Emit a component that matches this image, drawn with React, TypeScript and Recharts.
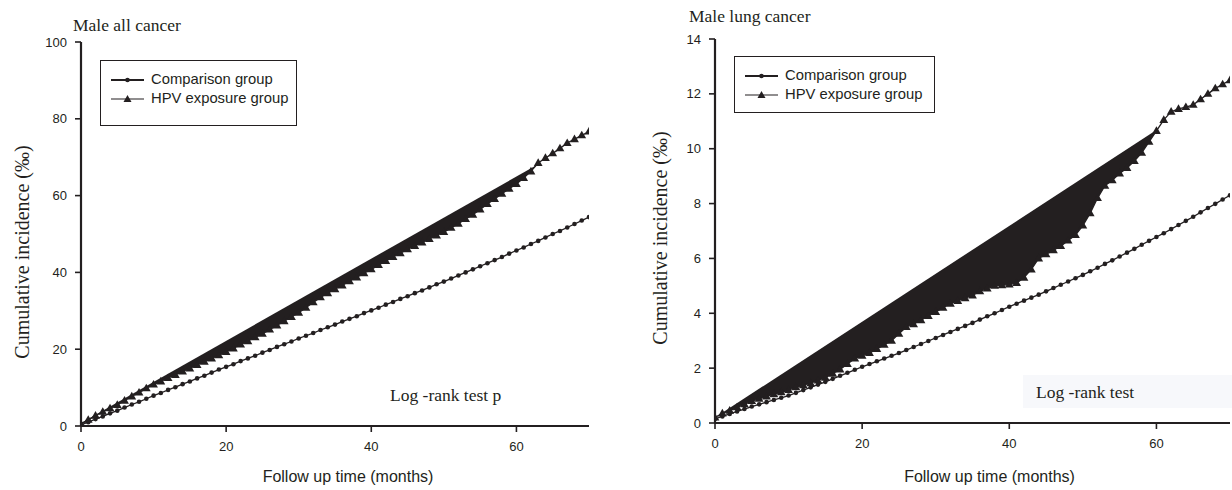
import React from "react";
import { ComposedChart, Area, Line, XAxis, YAxis, Legend } from "recharts";

const ink = "#231f20";
const serif = '"Liberation Serif", "Times New Roman", serif';
const sans = '"Liberation Sans", Arial, sans-serif';

// follow-up months 0..70
const months = Array.from({ length: 71 }, (_, i) => i);

// male all cancer (per mille)
const allComparison = [
  0.3, 1.0, 1.8, 2.5, 3.3, 4.0, 4.8, 5.6, 6.3, 7.1, 7.9,
  8.6, 9.4, 10.1, 10.9, 11.6, 12.4, 13.1, 13.9, 14.7, 15.4,
  16.1, 16.9, 17.6, 18.3, 19.1, 19.8, 20.6, 21.3, 22.0, 22.8,
  23.5, 24.2, 25.0, 25.7, 26.4, 27.2, 27.9, 28.6, 29.4, 30.1,
  30.8, 31.6, 32.3, 33.1, 33.8, 34.6, 35.3, 36.1, 36.9, 37.6,
  38.4, 39.2, 40.0, 40.8, 41.6, 42.4, 43.2, 44.0, 44.9, 45.7,
  46.5, 47.4, 48.2, 49.1, 50.0, 50.8, 51.7, 52.6, 53.5, 54.4,
];
const allHpv = [
  0.5, 1.6, 2.7, 3.7, 4.6, 5.5, 6.6, 7.7, 8.7, 9.8, 10.8,
  11.6, 12.5, 13.3, 14.2, 15.0, 15.9, 16.7, 17.6, 18.4, 19.3,
  20.2, 21.2, 22.1, 23.1, 24.0, 25.1, 26.2, 27.3, 28.4, 29.5,
  30.8, 32.2, 33.5, 34.6, 35.6, 36.6, 37.7, 38.7, 39.8, 40.8,
  41.9, 43.0, 44.0, 45.0, 46.0, 46.9, 47.8, 48.7, 49.6, 50.5,
  51.6, 52.7, 53.9, 55.0, 56.4, 57.8, 59.1, 60.5, 61.8, 63.0,
  64.6, 66.3, 68.5, 69.8, 71.0, 72.3, 73.7, 74.7, 75.7, 76.7,
];
// straight upper edge of the black band
const allEdgeX = [0, 63.3];
const allEdgeY = [0.8, 68.5];

// male lung cancer (per mille)
const lungComparison = [
  0.15, 0.24, 0.33, 0.42, 0.51, 0.6, 0.68, 0.76, 0.84, 0.92, 1.0,
  1.1, 1.2, 1.3, 1.4, 1.5, 1.61, 1.72, 1.83, 1.94, 2.05,
  2.15, 2.25, 2.35, 2.45, 2.55, 2.66, 2.77, 2.88, 2.99, 3.1,
  3.21, 3.32, 3.43, 3.54, 3.65, 3.77, 3.89, 4.0, 4.12, 4.24,
  4.35, 4.46, 4.57, 4.68, 4.8, 4.92, 5.04, 5.16, 5.28, 5.4,
  5.53, 5.66, 5.8, 5.93, 6.07, 6.21, 6.35, 6.5, 6.64, 6.78,
  6.92, 7.07, 7.22, 7.37, 7.52, 7.68, 7.84, 7.99, 8.15, 8.3,
];
const lungHpv = [
  0.2, 0.35, 0.45, 0.57, 0.68, 0.8, 0.88, 0.97, 1.05, 1.12, 1.2,
  1.3, 1.38, 1.45, 1.55, 1.65, 1.8, 1.95, 2.15, 2.35, 2.45,
  2.55, 2.7, 2.85, 3.0, 3.25, 3.5, 3.6, 3.75, 3.9, 4.05,
  4.2, 4.35, 4.45, 4.55, 4.65, 4.8, 4.9, 5.0, 5.02, 5.05,
  5.1, 5.3, 5.6, 6.0, 6.15, 6.3, 6.45, 6.65, 6.85, 7.2,
  7.65, 8.2, 8.65, 8.85, 9.1, 9.3, 9.55, 9.85, 10.25, 10.65,
  11.05, 11.35, 11.45, 11.52, 11.6, 11.8, 12.0, 12.2, 12.35, 12.5,
];
const lungEdgeX = [0, 60.1];
const lungEdgeY = [0.2, 10.7];

const xTicks = [0, 20, 40, 60];
const allTicks = [0, 20, 40, 60, 80, 100];
const lungTicks = [0, 2, 4, 6, 8, 10, 12, 14];

const Tri = (props: any) => {
  const { cx, cy, index } = props;
  if (cx == null || cy == null) return <g key={`t${index}`} />;
  return (
    <path
      key={`t${index}`}
      d={`M${cx},${cy - 4.6}L${cx + 4.4},${cy + 3}L${cx - 4.4},${cy + 3}Z`}
      fill={ink}
    />
  );
};

const Dot = (props: any) => {
  const { cx, cy, index } = props;
  if (cx == null || cy == null) return <g key={`d${index}`} />;
  return <circle key={`d${index}`} cx={cx} cy={cy} r={2.3} fill={ink} />;
};

function LegendBox() {
  const row = (tri: boolean, text: string) => (
    <div style={{ display: "flex", alignItems: "center", height: 19 }}>
      <svg width={34} height={12} style={{ marginRight: 6 }}>
        <line x1={0} y1={6} x2={33} y2={6} stroke={ink} strokeWidth={tri ? 1.2 : 2} />
        {tri ? (
          <path d="M16.5,2 L20.5,9 L12.5,9 Z" fill={ink} />
        ) : (
          <circle cx={16.5} cy={6} r={2.3} fill={ink} />
        )}
      </svg>
      <span>{text}</span>
    </div>
  );
  return (
    <div
      style={{
        border: `1.3px solid ${ink}`,
        boxSizing: "border-box",
        width: "100%",
        height: "100%",
        background: "#fff",
        paddingTop: 9,
        paddingLeft: 10,
        fontFamily: sans,
        fontSize: 14.8,
        color: ink,
        lineHeight: "19px",
      }}
    >
      {row(false, "Comparison group")}
      {row(true, "HPV exposure group")}
    </div>
  );
}

type PanelProps = {
  left: number;
  comparison: number[];
  hpv: number[];
  edgeX: number[];
  edgeY: number[];
  yMax: number;
  yTicks: number[];
  margin: { top: number; right: number; left: number; bottom: number };
  yWidth: number;
  xHeight: number;
  yLabelX: number;
  yLabelY: number;
  xLabelDx: number;
  legendPos: { left: number; top: number; width: number; height: number };
};

function Panel(p: PanelProps) {
  const rows = months.map((m, i) => ({ month: m, comparison: p.comparison[i], hpv: p.hpv[i] }));
  const edge = p.edgeX.map((x, i) => ({ month: x, edge: p.edgeY[i] }));

  const yLabel = () => (
    <text
      x={p.yLabelX}
      y={p.yLabelY}
      transform={`rotate(-90 ${p.yLabelX} ${p.yLabelY})`}
      textAnchor="middle"
      dominantBaseline="central"
      fontFamily={serif}
      fontSize={20}
      fill={ink}
    >
      Cumulative incidence (‰)
    </text>
  );
  const xLabel = (props: any) => {
    const vb = props.viewBox;
    const cx = vb.x + vb.width / 2 + p.xLabelDx;
    return (
      <text x={cx} y={482} textAnchor="middle" fontFamily={sans} fontSize={16} fill={ink}>
        Follow up time (months)
      </text>
    );
  };

  return (
    <div style={{ position: "absolute", left: p.left, top: 0 }}>
      <ComposedChart width={616} height={490} data={rows} margin={p.margin}>
        <Area
          data={edge}
          dataKey="edge"
          type="linear"
          fill={ink}
          fillOpacity={1}
          stroke="none"
          isAnimationActive={false}
          legendType="none"
        />
        <Area
          dataKey="hpv"
          type="linear"
          fill="#ffffff"
          fillOpacity={1}
          stroke="none"
          isAnimationActive={false}
          legendType="none"
        />
        <Line
          dataKey="comparison"
          type="linear"
          stroke={ink}
          strokeWidth={1.3}
          dot={Dot}
          activeDot={false}
          isAnimationActive={false}
        />
        <Line
          dataKey="hpv"
          type="linear"
          stroke={ink}
          strokeWidth={1.3}
          dot={Tri}
          activeDot={false}
          isAnimationActive={false}
        />
        <XAxis
          dataKey="month"
          type="number"
          domain={[0, 70]}
          ticks={xTicks}
          allowDataOverflow
          height={p.xHeight}
          axisLine={{ stroke: ink, strokeWidth: 2.2 }}
          tickLine={{ stroke: ink, strokeWidth: 1.6 }}
          tickSize={6}
          tickMargin={10}
          tick={{ fill: ink, fontFamily: sans, fontSize: 13 }}
          label={xLabel}
        />
        <YAxis
          type="number"
          domain={[0, p.yMax]}
          ticks={p.yTicks}
          allowDataOverflow
          width={p.yWidth}
          axisLine={{ stroke: ink, strokeWidth: 2.2 }}
          tickLine={{ stroke: ink, strokeWidth: 1.6 }}
          tickSize={6}
          tickMargin={8}
          tick={{ fill: ink, fontFamily: sans, fontSize: 13 }}
          label={yLabel}
        />
        <Legend
          layout="vertical"
          align="center"
          verticalAlign="middle"
          content={() => <LegendBox />}
          wrapperStyle={{ ...p.legendPos, position: "absolute" }}
        />
      </ComposedChart>
    </div>
  );
}

export default function App() {
  return (
    <div style={{ position: "absolute", left: 0, top: 0, width: 1232, height: 490, background: "#fff", overflow: "hidden" }}>
      <Panel
        left={0}
        comparison={allComparison}
        hpv={allHpv}
        edgeX={allEdgeX}
        edgeY={allEdgeY}
        yMax={100}
        yTicks={allTicks}
        margin={{ top: 42, right: 27, left: 0, bottom: 0 }}
        yWidth={81}
        xHeight={64}
        yLabelX={22}
        yLabelY={252}
        xLabelDx={13}
        legendPos={{ left: 100, top: 60, width: 197, height: 66 }}
      />
      <Panel
        left={616}
        comparison={lungComparison}
        hpv={lungHpv}
        edgeX={lungEdgeX}
        edgeY={lungEdgeY}
        yMax={14}
        yTicks={lungTicks}
        margin={{ top: 39, right: 2, left: 0, bottom: 0 }}
        yWidth={99}
        xHeight={67}
        yLabelX={44}
        yLabelY={238}
        xLabelDx={17}
        legendPos={{ left: 118, top: 56, width: 201, height: 57 }}
      />
      <svg
        width={1232}
        height={490}
        style={{ position: "absolute", left: 0, top: 0, pointerEvents: "none" }}
      >
        <text x={73} y={31} fontFamily={serif} fontSize={17.5} fill={ink}>
          Male all cancer
        </text>
        <text x={689} y={22} fontFamily={serif} fontSize={17.5} fill={ink}>
          Male lung cancer
        </text>
        <text x={390} y={401} fontFamily={serif} fontSize={17.5} fill={ink}>
          Log -rank test p
        </text>
        <rect x={1023} y={375} width={209} height={33} fill="#f7f8fb" />
        <text x={1036} y={398} fontFamily={serif} fontSize={17.5} fill={ink}>
          Log -rank test
        </text>
      </svg>
    </div>
  );
}
